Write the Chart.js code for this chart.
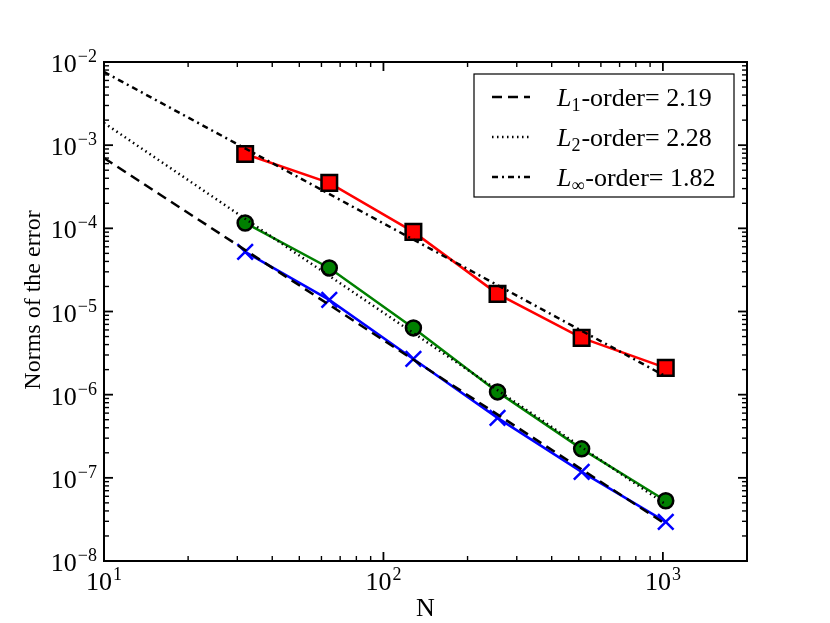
<!DOCTYPE html>
<html lang="en">
<head>
    <meta charset="UTF-8">
    <title>Norms of the error</title>
    <script src="https://cdn.jsdelivr.net/npm/chart.js"></script>
    <style>
        body { margin: 0; background: #fff; }
    </style>
</head>
<body>
    <canvas id="errorChart" width="830" height="623"></canvas>

    <script>
        // measured errors
        const N = [32, 64, 128, 256, 512, 1024];
        const errL1 = [5.20e-5, 1.38e-5, 2.69e-6, 5.26e-7, 1.18e-7, 2.96e-8];
        const errL2 = [1.16e-4, 3.34e-5, 6.35e-6, 1.08e-6, 2.23e-7, 5.30e-8];
        const errLinf = [7.83e-4, 3.52e-4, 9.06e-5, 1.63e-5, 4.82e-6, 2.10e-6];

        // fitted order lines (end points)
        const fitN = [10, 1024];
        const fitL1 = [7.0e-4, 2.77e-8];
        const fitL2 = [1.85e-3, 4.8e-8];
        const fitLinf = [7.6e-3, 1.66e-6];

        // legend text
        const normSubs = ['1', '2', '\u221e'];
        const orderLabels = ['2.19', '2.28', '1.82'];

        // tick labels (powers of ten)
        const xTickExps = [1, 2, 3];
        const yTickExps = [-8, -7, -6, -5, -4, -3, -2];

        const FONT = '"Liberation Serif", "DejaVu Serif", serif';

        function pts(xs, ys) {
            return xs.map((v, i) => ({ x: v, y: ys[i] }));
        }

        // draws "10" with a raised exponent
        function drawPow(ctx, exp, x, baseY, align) {
            const e = String(exp).replace('-', '\u2212');
            ctx.font = '26px ' + FONT;
            const wb = ctx.measureText('10').width;
            ctx.font = '18px ' + FONT;
            const we = ctx.measureText(e).width;
            const w = wb + we + 1;
            let left = align === 'right' ? x - w : x - w / 2;
            ctx.textAlign = 'left';
            ctx.textBaseline = 'alphabetic';
            ctx.font = '26px ' + FONT;
            ctx.fillText('10', left, baseY);
            ctx.font = '18px ' + FONT;
            ctx.fillText(e, left + wb + 1, baseY - 10);
        }

        const framePlugin = {
            id: 'frame',
            afterDraw(chart) {
                const { ctx, chartArea: a, scales: { x, y } } = chart;
                ctx.save();
                ctx.fillStyle = '#000';
                ctx.strokeStyle = '#000';

                // ticks, all four sides, pointing in
                const tick = (px, py, dx, dy, len, lw) => {
                    ctx.lineWidth = lw;
                    ctx.beginPath();
                    ctx.moveTo(px, py);
                    ctx.lineTo(px + dx * len, py + dy * len);
                    ctx.stroke();
                };
                for (let e = 1; e <= 3; e++) {
                    const p = x.getPixelForValue(Math.pow(10, e));
                    tick(p, a.bottom, 0, -1, 9, 1.8);
                    tick(p, a.top, 0, 1, 9, 1.8);
                    for (let m = 2; m <= 9; m++) {
                        const v = m * Math.pow(10, e);
                        if (v >= x.max) continue;
                        const q = x.getPixelForValue(v);
                        tick(q, a.bottom, 0, -1, 5, 1.4);
                        tick(q, a.top, 0, 1, 5, 1.4);
                    }
                }
                for (let e = -8; e <= -2; e++) {
                    const p = y.getPixelForValue(Math.pow(10, e));
                    tick(a.left, p, 1, 0, 9, 1.8);
                    tick(a.right, p, -1, 0, 9, 1.8);
                    if (e === -2) continue;
                    for (let m = 2; m <= 9; m++) {
                        const q = y.getPixelForValue(m * Math.pow(10, e));
                        tick(a.left, q, 1, 0, 5, 1.4);
                        tick(a.right, q, -1, 0, 5, 1.4);
                    }
                }

                ctx.lineWidth = 2;
                ctx.strokeRect(a.left, a.top, a.right - a.left, a.bottom - a.top);

                // tick labels
                xTickExps.forEach(e => {
                    drawPow(ctx, e, x.getPixelForValue(Math.pow(10, e)), a.bottom + 29, 'center');
                });
                yTickExps.forEach(e => {
                    drawPow(ctx, e, a.left - 7, y.getPixelForValue(Math.pow(10, e)) + 10, 'right');
                });

                // axis titles
                ctx.font = '26px ' + FONT;
                ctx.textAlign = 'center';
                ctx.textBaseline = 'alphabetic';
                ctx.fillText('N', (a.left + a.right) / 2, 616);
                ctx.save();
                ctx.translate(40, 300);
                ctx.rotate(-Math.PI / 2);
                ctx.font = '24px ' + FONT;
                ctx.fillText('Norms of the error', 0, 0);
                ctx.restore();

                // legend
                const bx = 474, by = 74, bw = 260, bh = 123;
                ctx.fillStyle = '#fff';
                ctx.fillRect(bx, by, bw, bh);
                ctx.lineWidth = 1.2;
                ctx.strokeRect(bx, by, bw, bh);
                ctx.fillStyle = '#000';
                const fits = chart.data.datasets.slice(0, 3);
                fits.forEach((ds, i) => {
                    const cy = 97 + i * 40;
                    ctx.lineWidth = ds.borderWidth;
                    ctx.setLineDash(ds.borderDash);
                    ctx.beginPath();
                    ctx.moveTo(492, cy);
                    ctx.lineTo(530, cy);
                    ctx.stroke();
                    ctx.setLineDash([]);
                    let tx = 557;
                    const base = cy + 9;
                    ctx.textAlign = 'left';
                    ctx.font = 'italic 26px ' + FONT;
                    ctx.fillText('L', tx, base);
                    tx += ctx.measureText('L').width;
                    ctx.font = '18px ' + FONT;
                    ctx.fillText(normSubs[i], tx, base + 5);
                    tx += ctx.measureText(normSubs[i]).width + 1;
                    ctx.font = '26px ' + FONT;
                    ctx.fillText('-order= ' + orderLabels[i], tx, base);
                });

                ctx.restore();
            }
        };

        const ctx = document.getElementById('errorChart').getContext('2d');
        new Chart(ctx, {
            type: 'line',
            data: {
                datasets: [
                    { label: 'L1 fit', data: pts(fitN, fitL1), borderColor: '#000', borderWidth: 2.5,
                      borderDash: [10, 6], pointRadius: 0, order: 0 },
                    { label: 'L2 fit', data: pts(fitN, fitL2), borderColor: '#000', borderWidth: 2.5,
                      borderDash: [1.5, 3.5], pointRadius: 0, order: 0 },
                    { label: 'Linf fit', data: pts(fitN, fitLinf), borderColor: '#000', borderWidth: 2.5,
                      borderDash: [6, 4, 2, 4], pointRadius: 0, order: 0 },
                    { label: 'Linf', data: pts(N, errLinf), borderColor: '#ff0000', borderWidth: 2.5,
                      pointStyle: 'rect', pointRadius: 11, pointBackgroundColor: '#ff0000',
                      pointBorderColor: '#000', pointBorderWidth: 2.5, order: 1 },
                    { label: 'L2', data: pts(N, errL2), borderColor: '#008000', borderWidth: 2.5,
                      pointStyle: 'circle', pointRadius: 7.5, pointBackgroundColor: '#008000',
                      pointBorderColor: '#000', pointBorderWidth: 2.5, order: 1 },
                    { label: 'L1', data: pts(N, errL1), borderColor: '#0000ff', borderWidth: 2.5,
                      pointStyle: 'crossRot', pointRadius: 11, pointBorderColor: '#0000ff',
                      pointBorderWidth: 2.5, order: 1 }
                ]
            },
            options: {
                responsive: false,
                animation: false,
                layout: { padding: { left: 104, top: 62, right: 83, bottom: 62 } },
                scales: {
                    x: { type: 'logarithmic', min: 10, max: 2000, display: false },
                    y: { type: 'logarithmic', min: 1e-8, max: 1e-2, display: false }
                },
                plugins: {
                    legend: { display: false },
                    tooltip: { enabled: false }
                }
            },
            plugins: [framePlugin]
        });
    </script>
</body>
</html>
